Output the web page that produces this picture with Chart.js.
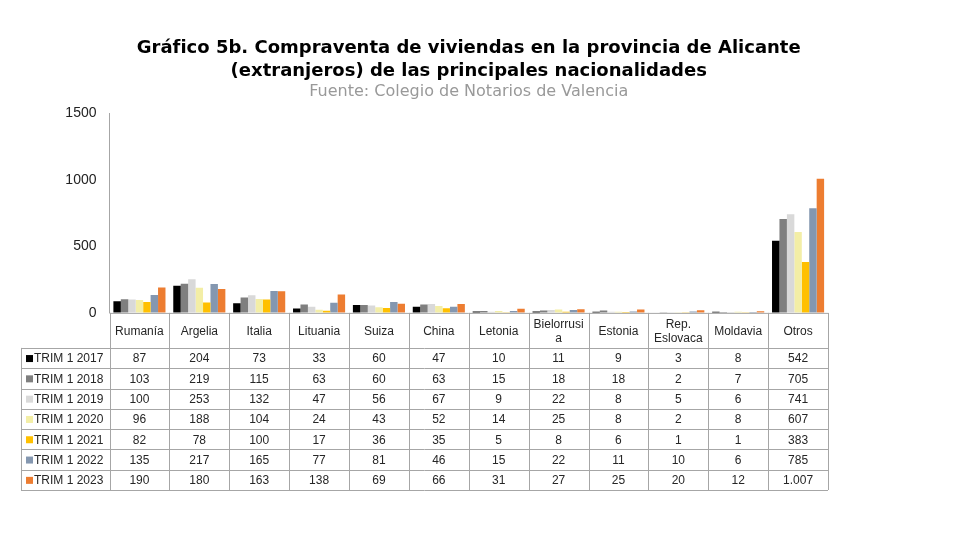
<!DOCTYPE html>
<html lang="es">
<head>
<meta charset="utf-8">
<title>Gráfico 5b</title>
<script src="https://cdn.jsdelivr.net/npm/chart.js@4.4.1/dist/chart.umd.min.js"></script>
<style>
    html, body { margin: 0; padding: 0; background: #ffffff; }
    #wrap { width: 956px; height: 538px; }
</style>
</head>
<body>
<div id="wrap"><canvas id="ventasChart" width="956" height="538"></canvas></div>
<script>
// --- Datos ---
const paises = ['Rumanía', 'Argelia', 'Italia', 'Lituania', 'Suiza', 'China', 'Letonia', ['Bielorrusi', 'a'], 'Estonia', ['Rep.', 'Eslovaca'], 'Moldavia', 'Otros'];
const periodos = ['TRIM 1 2017', 'TRIM 1 2018', 'TRIM 1 2019', 'TRIM 1 2020', 'TRIM 1 2021', 'TRIM 1 2022', 'TRIM 1 2023'];
const trim2017 = [87, 204, 73, 33, 60, 47, 10, 11, 9, 3, 8, 542];
const trim2018 = [103, 219, 115, 63, 60, 63, 15, 18, 18, 2, 7, 705];
const trim2019 = [100, 253, 132, 47, 56, 67, 9, 22, 8, 5, 6, 741];
const trim2020 = [96, 188, 104, 24, 43, 52, 14, 25, 8, 2, 8, 607];
const trim2021 = [82, 78, 100, 17, 36, 35, 5, 8, 6, 1, 1, 383];
const trim2022 = [135, 217, 165, 77, 81, 46, 15, 22, 11, 10, 6, 785];
const trim2023 = [190, 180, 163, 138, 69, 66, 31, 27, 25, 20, 12, 1007];
const ticksY = [0, 500, 1000, 1500];

const series = [trim2017, trim2018, trim2019, trim2020, trim2021, trim2022, trim2023];
const colores = ['#000000', '#7f7f7f', '#d9d9d9', '#f3eea6', '#ffc000', '#8497b0', '#ed7d31'];

const FUENTE = "'Liberation Sans', Arial, sans-serif";
const FUENTE_TITULO = "'DejaVu Sans', Verdana, sans-serif";
const HEADER_H = 35;
const ROW_H = 20.3;
const LEGEND_LEFT = 21;

// 1007 -> "1.007"
function formatoES(v) {
    return String(v).replace(/\B(?=(\d{3})+(?!\d))/g, '.');
}

// tabla de datos bajo el eje, alineada con la escala x
const tablaDatos = {
    id: 'tablaDatos',
    afterDraw(chart) {
        const ctx = chart.ctx;
        const x = chart.scales.x;
        const top = chart.scales.y.bottom;
        const colW = x.getPixelForValue(1) - x.getPixelForValue(0);
        const left = x.getPixelForValue(0) - colW / 2;
        const right = x.getPixelForValue(paises.length - 1) + colW / 2;
        const rowsTop = top + HEADER_H;
        const bottom = rowsTop + ROW_H * periodos.length;

        ctx.save();
        ctx.strokeStyle = '#a6a6a6';
        ctx.lineWidth = 1;
        ctx.beginPath();
        // horizontales
        ctx.moveTo(left, top + 0.5); ctx.lineTo(right, top + 0.5);
        for (let r = 0; r <= periodos.length; r++) {
            const yy = Math.round(rowsTop + r * ROW_H) + 0.5;
            ctx.moveTo(LEGEND_LEFT, yy); ctx.lineTo(right, yy);
        }
        // verticales
        ctx.moveTo(LEGEND_LEFT + 0.5, rowsTop); ctx.lineTo(LEGEND_LEFT + 0.5, bottom);
        for (let c = 0; c <= paises.length; c++) {
            const xx = Math.round(left + c * colW) + 0.5;
            ctx.moveTo(xx, top); ctx.lineTo(xx, bottom);
        }
        ctx.stroke();

        ctx.fillStyle = '#262626';
        ctx.font = '12px ' + FUENTE;
        ctx.textAlign = 'center';
        ctx.textBaseline = 'middle';
        // cabecera
        paises.forEach((p, i) => {
            const cx = x.getPixelForValue(i);
            const lineas = Array.isArray(p) ? p : [p];
            const lh = 14;
            const y0 = top + HEADER_H / 2 - (lineas.length - 1) * lh / 2 + 1;
            lineas.forEach((l, k) => ctx.fillText(l, cx, y0 + k * lh));
        });
        // filas
        series.forEach((serie, r) => {
            const cy = rowsTop + r * ROW_H + ROW_H / 2 + 1;
            serie.forEach((v, i) => ctx.fillText(formatoES(v), x.getPixelForValue(i), cy));
            ctx.fillStyle = colores[r];
            ctx.fillRect(LEGEND_LEFT + 5, cy - 4, 7, 7);
            ctx.fillStyle = '#262626';
            ctx.textAlign = 'left';
            ctx.fillText(periodos[r], LEGEND_LEFT + 13, cy);
            ctx.textAlign = 'center';
        });
        ctx.restore();
    }
};

document.addEventListener('DOMContentLoaded', () => {
    const canvas = document.getElementById('ventasChart');
    if (typeof Chart === 'undefined' || !canvas) {
        console.error('Chart.js no disponible');
        return;
    }

    new Chart(canvas, {
        type: 'bar',
        data: {
            labels: paises,
            datasets: series.map((serie, i) => ({
                label: periodos[i],
                data: serie,
                backgroundColor: colores[i],
                borderWidth: 0,
                categoryPercentage: 0.87,
                barPercentage: 1.0
            }))
        },
        options: {
            responsive: false,
            animation: false,
            layout: { padding: { left: 0, right: 128, top: 0, bottom: 48 } },
            plugins: {
                legend: { display: false },
                tooltip: { enabled: false },
                title: {
                    display: true,
                    fullSize: false,
                    text: ['Gráfico 5b. Compraventa de viviendas en la provincia de Alicante', '(extranjeros) de las principales nacionalidades'],
                    color: '#000000',
                    font: { family: FUENTE_TITULO, size: 18, weight: 'bold', lineHeight: 1.28 },
                    padding: { top: 37, bottom: 0 }
                },
                subtitle: {
                    display: true,
                    fullSize: false,
                    text: 'Fuente: Colegio de Notarios de Valencia',
                    color: '#999999',
                    font: { family: FUENTE_TITULO, size: 16, lineHeight: 1.05 },
                    padding: { top: 0, bottom: 13.2 }
                }
            },
            scales: {
                x: {
                    ticks: { display: false },
                    grid: { display: false },
                    border: { display: false },
                    afterFit: (s) => { s.height = HEADER_H + ROW_H * periodos.length; }
                },
                y: {
                    min: ticksY[0],
                    max: ticksY[ticksY.length - 1],
                    afterBuildTicks: (s) => { s.ticks = ticksY.map(v => ({ value: v })); },
                    afterFit: (s) => { s.width = 109.5; },
                    ticks: {
                        color: '#222222',
                        padding: 13,
                        font: { family: FUENTE, size: 14 },
                        callback: (v) => String(v)
                    },
                    grid: { display: true, drawOnChartArea: false, drawTicks: false },
                    border: { display: true, color: '#a6a6a6', dash: [3, 3], width: 1 }
                }
            }
        },
        plugins: [tablaDatos]
    });
});
</script>
</body>
</html>
